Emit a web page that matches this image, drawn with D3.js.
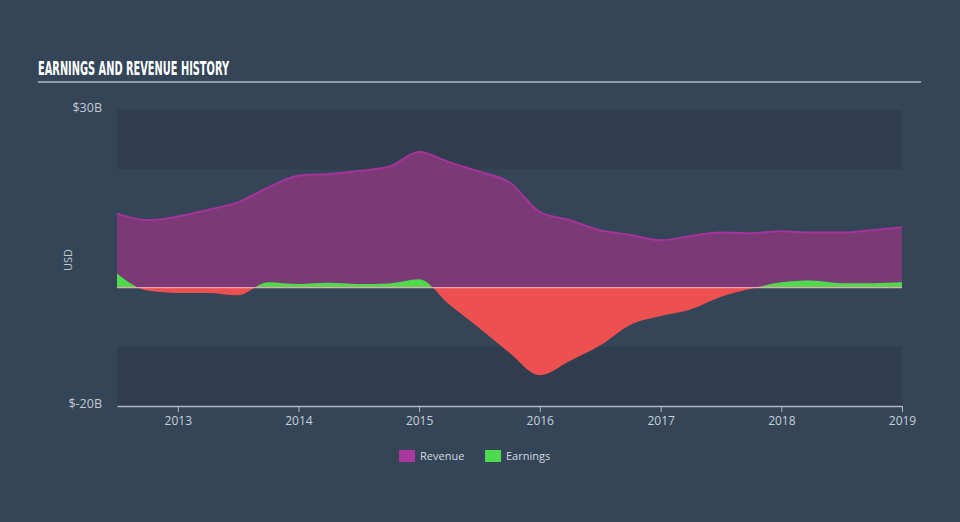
<!DOCTYPE html>
<html>
<head>
<meta charset="utf-8">
<script src="https://cdn.jsdelivr.net/npm/d3@7"></script>
<style>
  html, body { margin: 0; padding: 0; background: #344558; }
  svg { display: block; }
  text { font-family: "Open Sans", "DejaVu Sans", sans-serif; }
</style>
</head>
<body>
<svg width="960" height="522"></svg>
<script>

// quarterly points, mid 2012 to start of 2019
var dates = ['2012-07-01', '2012-10-01', '2013-01-01', '2013-04-01', '2013-07-01', '2013-10-01',
             '2014-01-01', '2014-04-01', '2014-07-01', '2014-10-01', '2015-01-01', '2015-04-01',
             '2015-07-01', '2015-10-01', '2016-01-01', '2016-04-01', '2016-07-01', '2016-10-01',
             '2017-01-01', '2017-04-01', '2017-07-01', '2017-10-01', '2018-01-01', '2018-04-01',
             '2018-07-01', '2018-10-01', '2019-01-01'];

// values in $B
var revenue = [12.5, 11.4, 12.0, 13.1, 14.4, 16.9, 18.9, 19.2, 19.7, 20.4, 22.9, 21.2, 19.6, 17.8,
               12.8, 11.4, 9.7, 8.9, 8.0, 8.7, 9.3, 9.2, 9.5, 9.3, 9.3, 9.7, 10.2];

var earnings = [2.4, -0.5, -0.9, -0.9, -1.3, 0.9, 0.6, 0.8, 0.6, 0.7, 1.4, -2.8, -6.8, -11.0,
                -14.8, -12.4, -9.8, -6.3, -4.8, -3.7, -1.6, -0.2, 0.9, 1.2, 0.75, 0.75, 0.9];

var yTicks = [30, -20];
var xTicks = ['2013', '2014', '2015', '2016', '2017', '2018', '2019'];
var bands = [[20, 30], [-20, -10]];

var legendItems = [
  { name: 'Revenue', color: '#a9389d' },
  { name: 'Earnings', color: '#4fd94f' }
];

var parse = d3.timeParse('%Y-%m-%d');
var rows = dates.map(function(d, i) {
  return { date: parse(d), revenue: revenue[i], earnings: earnings[i] };
});

var plotLeft = 117, plotRight = 902, plotTop = 110, plotBottom = 406;

var svg = d3.select('svg');

var x = d3.scaleTime()
    .domain([parse('2012-07-01'), parse('2019-01-01')])
    .range([plotLeft, plotRight]);

var y = d3.scaleLinear()
    .domain([-20, 30])
    .range([plotBottom, plotTop]);

// title
svg.append('text')
    .attr('x', 38)
    .attr('y', 75)
    .attr('textLength', 191)
    .attr('lengthAdjust', 'spacingAndGlyphs')
    .style('font-family', '"Liberation Sans Narrow", "DejaVu Sans Condensed", sans-serif')
    .style('font-weight', 'bold')
    .style('font-size', '20px')
    .attr('fill', '#ffffff')
    .text('EARNINGS AND REVENUE HISTORY');

svg.append('line')
    .attr('x1', 38).attr('x2', 921)
    .attr('y1', 82).attr('y2', 82)
    .attr('stroke', '#aeb8c4')
    .attr('stroke-width', 1.5);

// darker bands
svg.selectAll('rect.band')
    .data(bands)
  .enter().append('rect')
    .attr('class', 'band')
    .attr('x', plotLeft)
    .attr('width', plotRight - plotLeft)
    .attr('y', function(d) { return y(d[1]); })
    .attr('height', function(d) { return y(d[0]) - y(d[1]); })
    .attr('fill', '#2f3d4e');

var defs = svg.append('defs');
defs.append('clipPath').attr('id', 'above')
  .append('rect')
    .attr('x', plotLeft).attr('y', 0)
    .attr('width', plotRight - plotLeft).attr('height', y(0));
defs.append('clipPath').attr('id', 'below')
  .append('rect')
    .attr('x', plotLeft).attr('y', y(0))
    .attr('width', plotRight - plotLeft).attr('height', 522 - y(0));

var curve = d3.curveMonotoneX;

var revArea = d3.area()
    .curve(curve)
    .x(function(d) { return x(d.date); })
    .y0(y(0))
    .y1(function(d) { return y(d.revenue); });

var revLine = d3.line()
    .curve(curve)
    .x(function(d) { return x(d.date); })
    .y(function(d) { return y(d.revenue); });

var earnArea = d3.area()
    .curve(curve)
    .x(function(d) { return x(d.date); })
    .y0(y(0))
    .y1(function(d) { return y(d.earnings); });

svg.append('path')
    .datum(rows)
    .attr('d', revArea)
    .attr('fill', '#7b3a76');

svg.append('path')
    .datum(rows)
    .attr('d', revLine)
    .attr('fill', 'none')
    .attr('stroke', '#a5339a')
    .attr('stroke-width', 2);

svg.append('path')
    .datum(rows)
    .attr('d', earnArea)
    .attr('clip-path', 'url(#above)')
    .attr('fill', '#4fd94f');

svg.append('path')
    .datum(rows)
    .attr('d', earnArea)
    .attr('clip-path', 'url(#below)')
    .attr('fill', '#ec5050');

// zero line
svg.append('line')
    .attr('x1', plotLeft).attr('x2', plotRight)
    .attr('y1', y(0)).attr('y2', y(0))
    .attr('stroke', '#f3a2b4')
    .attr('stroke-width', 1.2);

// y labels
svg.selectAll('text.ytick')
    .data(yTicks)
  .enter().append('text')
    .attr('class', 'ytick')
    .attr('x', 102)
    .attr('y', function(d) { return y(d) - 2; })
    .attr('dy', '0.35em')
    .attr('text-anchor', 'end')
    .attr('fill', '#c3cad3')
    .style('font-size', '12.5px')
    .text(function(d) { return '$' + d + 'B'; });

svg.append('text')
    .attr('transform', 'translate(72,' + ((plotTop + plotBottom) / 2 + 2) + ') rotate(-90)')
    .attr('text-anchor', 'middle')
    .attr('fill', '#c3cad3')
    .style('font-size', '11px')
    .text('USD');

// x axis
var xAxis = d3.axisBottom(x)
    .tickValues(xTicks.map(function(t) { return parse(t + '-01-01'); }))
    .tickFormat(d3.timeFormat('%Y'))
    .tickSizeInner(6)
    .tickSizeOuter(0)
    .tickPadding(4);

var gx = svg.append('g')
    .attr('transform', 'translate(0,' + plotBottom + ')')
    .call(xAxis);

gx.select('.domain').attr('stroke', '#aeb9c6').attr('stroke-width', 1.5);
gx.selectAll('.tick line').attr('stroke', '#aeb9c6');
gx.selectAll('.tick text')
    .attr('fill', '#c8d0d8')
    .style('font-size', '12px')
    .style('font-family', '"Open Sans", "DejaVu Sans", sans-serif');

// legend
var legend = svg.append('g')
    .attr('transform', 'translate(399,450)');

var item = legend.selectAll('g')
    .data(legendItems)
  .enter().append('g')
    .attr('transform', function(d, i) { return 'translate(' + (i * 86) + ',0)'; });

item.append('rect')
    .attr('width', 16)
    .attr('height', 12)
    .attr('fill', function(d) { return d.color; });

item.append('text')
    .attr('x', 21)
    .attr('y', 6)
    .attr('dy', '0.35em')
    .attr('fill', '#d3d9e0')
    .style('font-size', '11px')
    .text(function(d) { return d.name; });

</script>
</body>
</html>
